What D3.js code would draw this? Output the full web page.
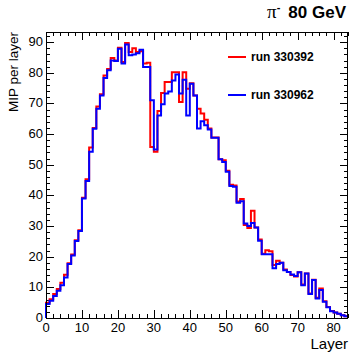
<!DOCTYPE html>
<html>
<head>
<meta charset="utf-8">
<script src="https://cdn.jsdelivr.net/npm/d3@7.9.0/dist/d3.min.js"></script>
<style>
  body { margin: 0; background: #fff; }
  text { font-family: "Liberation Sans", Arial, sans-serif; fill: #000; }
</style>
</head>
<body>
<svg id="chart" width="349" height="353"></svg>
<script>
// MIP per layer, one value per layer (0..83)
const run330392 = [
  5.0, 6.1, 7.8, 9.5, 11.5, 14.1, 17.9, 20.7, 25.4, 28.6,
  39.2, 45.3, 55.6, 62.0, 69.0, 73.0, 79.1, 81.2, 84.8, 84.0,
  88.2, 83.5, 89.7, 86.8, 88.0, 86.8, 87.0, 83.0, 83.3, 55.8,
  54.2, 67.5, 73.4, 77.0, 77.0, 80.2, 80.2, 70.5, 80.2, 74.8,
  76.6, 72.6, 68.3, 66.7, 64.7, 61.8, 58.9, 58.9, 51.8, 51.5,
  48.0, 43.5, 43.2, 38.0, 38.8, 30.3, 29.4, 35.0, 29.5, 25.6,
  21.0, 22.1, 21.8, 17.3, 18.7, 18.0, 15.8, 15.0, 14.0, 13.5,
  14.9, 10.9, 14.5, 8.0, 12.5, 6.6, 9.6, 5.5, 3.6, 2.3,
  1.8, 1.4, 0.9, 0.6
];
const run330962 = [
  4.6, 5.6, 7.2, 8.9, 10.7, 13.2, 17.6, 20.4, 25.1, 28.4,
  39.0, 44.7, 54.2, 61.7, 68.3, 72.6, 78.3, 80.8, 84.0, 83.8,
  87.8, 83.0, 89.2, 85.7, 86.0, 86.4, 87.5, 81.9, 81.9, 71.0,
  55.0, 66.1, 69.7, 73.2, 73.9, 77.5, 79.4, 73.2, 77.7, 66.1,
  76.4, 72.6, 61.8, 64.2, 62.9, 61.5, 58.8, 58.8, 51.8, 50.9,
  47.7, 43.1, 42.8, 37.6, 38.1, 30.8, 30.0, 31.0, 29.5, 25.2,
  20.8, 20.8, 20.8, 16.2, 17.6, 18.0, 15.6, 15.0, 14.2, 13.7,
  14.9, 10.7, 14.5, 7.8, 12.4, 6.4, 9.1, 5.3, 3.5, 2.2,
  1.8, 1.4, 0.9, 0.6
];
const seriesNames = ['run 330392', 'run 330962'];
const seriesColors = ['#ff0000', '#0000ff'];
const xTicks = [0, 10, 20, 30, 40, 50, 60, 70, 80];
const yTicks = [0, 10, 20, 30, 40, 50, 60, 70, 80, 90];

const margin = { top: 32, right: 1, bottom: 35, left: 46 };
const width = 349, height = 353;
const svg = d3.select('#chart');

const x = d3.scaleLinear().domain([0, 84]).range([margin.left, width - margin.right]);
const y = d3.scaleLinear().domain([0, 93.3]).range([height - margin.bottom, margin.top]);

const x0 = x.range()[0], x1 = x.range()[1];
const y0 = y.range()[0], y1 = y.range()[1];

// ticks (ROOT style, pointing inside, on all four sides)
const ticks = svg.append('g').attr('stroke', '#000').attr('stroke-width', 1);
d3.range(0, 85, 2).forEach(v => {
  const len = v % 10 === 0 ? 8 : 4;
  const px = Math.round(x(v)) + 0.5;
  ticks.append('line').attr('x1', px).attr('x2', px).attr('y1', y0).attr('y2', y0 - len);
  ticks.append('line').attr('x1', px).attr('x2', px).attr('y1', y1).attr('y2', y1 + len);
});
d3.range(0, 93.3, 2).forEach(v => {
  const len = v % 10 === 0 ? 8 : 4;
  const py = Math.round(y(v)) + 0.5;
  ticks.append('line').attr('x1', x0).attr('x2', x0 + len).attr('y1', py).attr('y2', py);
  ticks.append('line').attr('x1', x1).attr('x2', x1 - len).attr('y1', py).attr('y2', py);
});

// tick labels
svg.append('g').selectAll('text').data(xTicks).join('text')
  .attr('x', d => x(d)).attr('y', y0 + 14)
  .attr('text-anchor', 'middle').attr('font-size', 13)
  .text(d => d);
svg.append('g').selectAll('text').data(yTicks).join('text')
  .attr('x', x0 - 3).attr('y', d => y(d) + 4)
  .attr('text-anchor', 'end').attr('font-size', 13)
  .text(d => d);

// histograms
const line = d3.line().curve(d3.curveStepAfter).x(d => x(d[0])).y(d => y(d[1]));
[run330392, run330962].forEach((vals, k) => {
  const pts = vals.map((v, i) => [i, v]);
  pts.unshift([0, 0]);
  pts.push([vals.length, vals[vals.length - 1]]);
  svg.append('path')
    .attr('d', line(pts))
    .attr('fill', 'none')
    .attr('stroke', seriesColors[k])
    .attr('stroke-width', 2);
});

// frame
svg.append('rect')
  .attr('x', x0 + 0.5).attr('y', y1 + 0.5)
  .attr('width', x1 - x0 - 1).attr('height', y0 - y1)
  .attr('fill', 'none').attr('stroke', '#000');

// legend
const legend = svg.append('g');
seriesNames.forEach((name, k) => {
  const ly = 57 + k * 38;
  legend.append('line')
    .attr('x1', 228).attr('x2', 246).attr('y1', ly).attr('y2', ly)
    .attr('stroke', seriesColors[k]).attr('stroke-width', 2);
  legend.append('text')
    .attr('x', 251).attr('y', ly + 4)
    .attr('font-size', 12).attr('font-weight', 'bold')
    .text(name);
});

// title
const title = svg.append('text').attr('x', 346).attr('y', 18)
  .attr('text-anchor', 'end').attr('font-size', 17).attr('font-weight', 'bold');
title.append('tspan').attr('font-family', '"Liberation Serif", serif').attr('font-weight', 'normal').attr('font-size', 19).text('π');
title.append('tspan').attr('dy', -7).attr('font-size', 11).text('-');
title.append('tspan').attr('dy', 7).attr('dx', 8).text('80 GeV');

// axis titles
svg.append('text')
  .attr('transform', `translate(18, ${y1}) rotate(-90)`)
  .attr('text-anchor', 'end').attr('font-size', 13.5)
  .text('MIP per layer');
svg.append('text')
  .attr('x', x1).attr('y', 349)
  .attr('text-anchor', 'end').attr('font-size', 15)
  .text('Layer');
</script>
</body>
</html>
